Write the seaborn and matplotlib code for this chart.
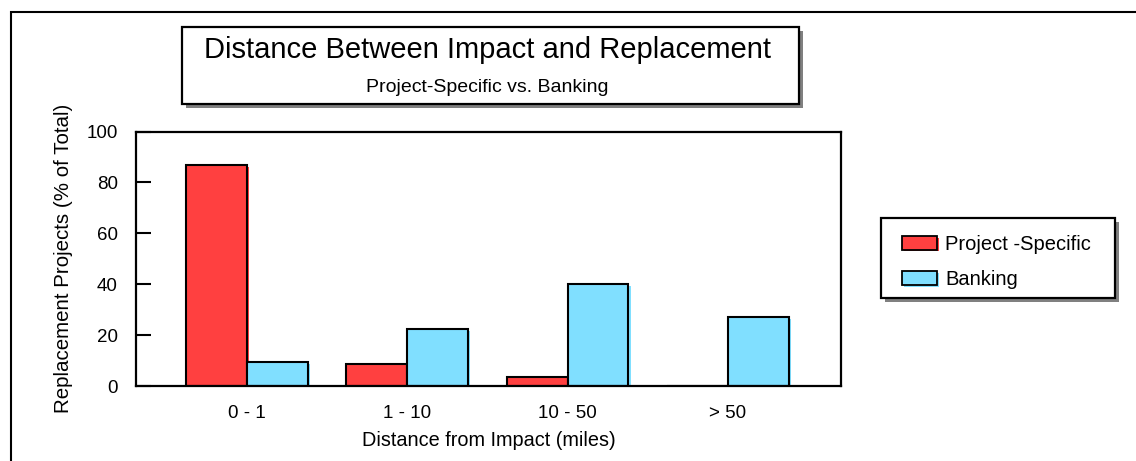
import matplotlib
matplotlib.use("Agg")
import matplotlib.pyplot as plt
import matplotlib.patheffects as pe
from matplotlib.patches import Rectangle, Patch
import pandas as pd
import seaborn as sns

# Data
categories = ["0 - 1", "1 - 10", "10 - 50", "> 50"]
project_specific = [87, 8.5, 3.5, 0]
banking = [9.3, 22.5, 40, 27]
series_names = ["Project -Specific", "Banking"]
series_colors = ["#FF4040", "#80DFFF"]
y_ticks = [0, 20, 40, 60, 80, 100]

df = pd.DataFrame({
    "Distance": categories * 2,
    "Share": project_specific + banking,
    "Type": [series_names[0]] * len(categories) + [series_names[1]] * len(categories),
})

sns.set_theme(style="white")
plt.rcParams["font.family"] = ["Liberation Sans", "DejaVu Sans"]

W, H = 1136, 461
fig = plt.figure(figsize=(W / 100, H / 100), dpi=100)


def fx(px):
    return px / W


def fy(py):
    return 1 - py / H


ax = fig.add_axes([fx(136), fy(386), fx(841) - fx(136), fy(131.5) - fy(386)])

sns.barplot(data=df, x="Distance", y="Share", hue="Type",
            order=categories, hue_order=series_names,
            palette=series_colors, width=0.76, gap=0, dodge=True,
            edgecolor="black", linewidth=1.5, saturation=1,
            legend=False, ax=ax)

# Offset colored shadow under each bar outline
for bar in ax.patches:
    bar.set_path_effects([
        pe.SimplePatchShadow(offset=(1.5, -1.5), shadow_rgbFace=bar.get_facecolor(), alpha=1),
        pe.Normal(),
    ])

ax.set_xlim(-0.69, 3.705)
ax.set_ylim(0, 100)
ax.set_yticks(y_ticks)
ax.set_yticklabels([str(t) for t in y_ticks])
for s in ax.spines.values():
    s.set_visible(True)
    s.set_color("black")
    s.set_linewidth(1.6)
ax.tick_params(axis="y", direction="in", length=11, width=1.5, color="black",
               pad=13, labelsize=13.5, labelcolor="black", left=True)
ax.tick_params(axis="x", length=0, pad=14, labelsize=13.5, labelcolor="black")
ax.set_xlabel("Distance from Impact (miles)", fontsize=14.3, color="black", labelpad=6)
ax.set_ylabel("Replacement Projects (% of Total)", fontsize=14.8, color="black", labelpad=10)
ax.grid(False)

# Outer frame
fig.add_artist(Rectangle((fx(11), fy(470)), fx(1200) - fx(11), fy(12) - fy(470),
                         transform=fig.transFigure, fill=False, edgecolor="black",
                         linewidth=1.5))

# Boxes with drop shadow
def shadow_box(x0, y0, x1, y1, off=4):
    fig.add_artist(Rectangle((fx(x0 + off), fy(y1 + off)), fx(x1) - fx(x0), fy(y0) - fy(y1),
                             transform=fig.transFigure, facecolor="#808080",
                             edgecolor="none", zorder=1))
    fig.add_artist(Rectangle((fx(x0), fy(y1)), fx(x1) - fx(x0), fy(y0) - fy(y1),
                             transform=fig.transFigure, facecolor="white",
                             edgecolor="black", linewidth=1.6, zorder=2))

shadow_box(182, 27, 799, 104)
fig.text(fx(488), fy(50), "Distance Between Impact and Replacement",
         ha="center", va="center", fontsize=21, color="black", zorder=3)
fig.text(fx(487), fy(87), "Project-Specific vs. Banking",
         ha="center", va="center", fontsize=14, color="black", zorder=3)

# Legend box
shadow_box(881, 218, 1115, 298)
handles = [Patch(facecolor=c, edgecolor="black", linewidth=1.3, label=n,
                 path_effects=[pe.SimplePatchShadow(offset=(1.2, -1.2), shadow_rgbFace=c, alpha=1),
                               pe.Normal()])
           for n, c in zip(series_names, series_colors)]
leg = fig.legend(handles=handles, loc="upper left",
                 bbox_to_anchor=(fx(886), fy(219)), bbox_transform=fig.transFigure,
                 frameon=False, fontsize=14.5, handlelength=1.75, handleheight=0.65,
                 handletextpad=0.4, labelspacing=0.8, borderpad=0.3)
leg.set_zorder(5)
for t in leg.get_texts():
    t.set_color("black")

fig.savefig("out.png", dpi=100)
